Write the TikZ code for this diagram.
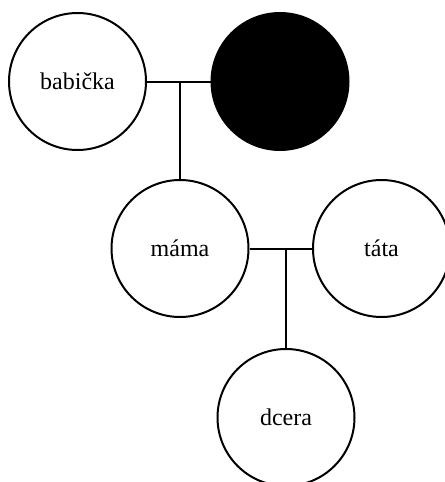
\documentclass[tikz,border=0pt]{standalone}
\usepackage{fontspec}
\setmainfont{Liberation Serif}
\usetikzlibrary{positioning,calc}

\begin{document}
\begin{tikzpicture}[x=0.75pt,y=-0.75pt,line width=1.5pt,
    every node/.style={draw,circle,minimum size=102.75pt,inner sep=0pt,font=\fontsize{18}{22}\selectfont},
    deadnode/.style={fill=black}
    ]
    \useasboundingbox (0,0) rectangle (444,482);

    % the generations
    \node (babicka) at (77.5,81.5) {babička};
    \node[deadnode] (dedecek) at (280,81.5) {};
    \node (mama) at (180,248.5) {máma};
    \node (tata) at (381.5,248.5) {táta};
    \node (dcera) at (286,417.5) {dcera};

    % the couples
    \draw (babicka) -- (dedecek);
    \coordinate (m1) at (mama |- babicka);
    \draw (m1) -- (mama);
    \draw (mama) -- (tata);
    \coordinate (m2) at (dcera |- mama);
    \draw (m2) -- (dcera);
\end{tikzpicture}
\end{document}
